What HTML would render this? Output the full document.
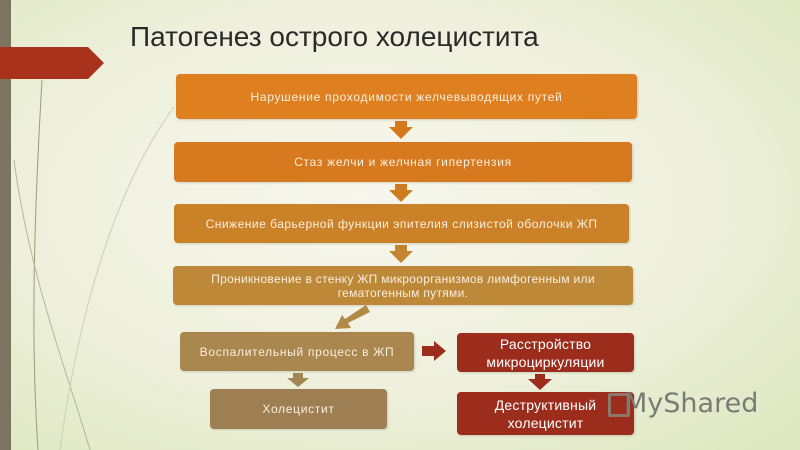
<!DOCTYPE html>
<html><head><meta charset="utf-8"><style>
*{margin:0;padding:0;box-sizing:border-box}
body{width:800px;height:450px;overflow:hidden;position:relative;font-family:"Liberation Sans",sans-serif;
background:radial-gradient(ellipse at 45% 45%,#f7f7ee 0%,#eef0dc 55%,#dde6bd 100%);}
.b{position:absolute;border-radius:4px;color:#fbeedd;font-size:12px;letter-spacing:.7px;display:flex;align-items:center;justify-content:center;text-align:center;line-height:14px;box-shadow:1px 1px 2px rgba(0,0,0,.15)}
.r{background:#9c2d1c;color:#fff;font-size:14px;line-height:18px;letter-spacing:.2px}
</style></head><body>
<div style="position:absolute;left:0;top:0;width:11px;height:450px;background:#7c7361"></div>
<svg style="position:absolute;left:0;top:0" width="800" height="450">
<polygon points="0,47 88,47 104,63 88,79 0,79" fill="#a8321c"/>
<path d="M42,80 C35,200 30,330 38,450" stroke="#9a9a80" stroke-width="1" fill="none"/>
<path d="M14,160 C30,280 70,380 90,450" stroke="#b0b8a0" stroke-width="1" fill="none"/>
<path d="M174,107 C120,180 80,300 60,450" stroke="#c8d0b8" stroke-width="1" fill="none"/>
<polygon points="395,121 407,121 407,127 413,127 401,139 389,127 395,127" fill="#d57a1c"/>
<polygon points="395,184 407,184 407,190 413,190 401,202 389,190 395,190" fill="#cf7c20"/>
<polygon points="395,245 407,245 407,251 413,251 401,263 389,251 395,251" fill="#c48430"/>
<polygon points="366,305 370,312 348,323 351,328 335,329 342,315 345,319" fill="#b38a45"/>
<polygon points="293,373 303,373 303,378 309,378 298,387 287,378 293,378" fill="#a08650"/>
<polygon points="422,346 434,346 434,341 446,351 434,361 434,356 422,356" fill="#9c2d1c"/>
<polygon points="535,374 545,374 545,379 552,379 540,390 528,379 535,379" fill="#9c2d1c"/>
</svg>
<div style="position:absolute;left:130px;top:21px;font-size:28px;color:#2a2a2a;letter-spacing:0px">Патогенез острого холецистита</div>
<div class="b" style="left:176px;top:74px;width:461px;height:45px;background:#de7f20">Нарушение проходимости желчевыводящих путей</div>
<div class="b" style="left:174px;top:142px;width:458px;height:40px;background:#d7791f">Стаз желчи и желчная гипертензия</div>
<div class="b" style="left:174px;top:204px;width:455px;height:39px;background:#cb8128;letter-spacing:.5px">Снижение барьерной функции эпителия слизистой оболочки ЖП</div>
<div class="b" style="left:173px;top:266px;width:460px;height:39px;background:#bd8838;letter-spacing:.3px">Проникновение в стенку ЖП микроорганизмов лимфогенным или<br>гематогенным путями.</div>
<div class="b" style="left:180px;top:332px;width:234px;height:39px;background:#a9874f">Воспалительный процесс в ЖП</div>
<div class="b" style="left:210px;top:389px;width:177px;height:40px;background:#9d7f53">Холецистит</div>
<div class="b r" style="left:457px;top:333px;width:177px;height:39px">Расстройство<br>микроциркуляции</div>
<div class="b r" style="left:457px;top:392px;width:177px;height:43px">Деструктивный<br>холецистит</div>
<div style="position:absolute;left:608px;top:393px;width:22px;height:24px;border:3px solid #8a8a80;border-radius:2px;opacity:.8"></div>
<div style="position:absolute;left:624px;top:388px;font-size:27px;color:#7a7a76;font-family:'DejaVu Sans',sans-serif">MyShared</div>
</body></html>
